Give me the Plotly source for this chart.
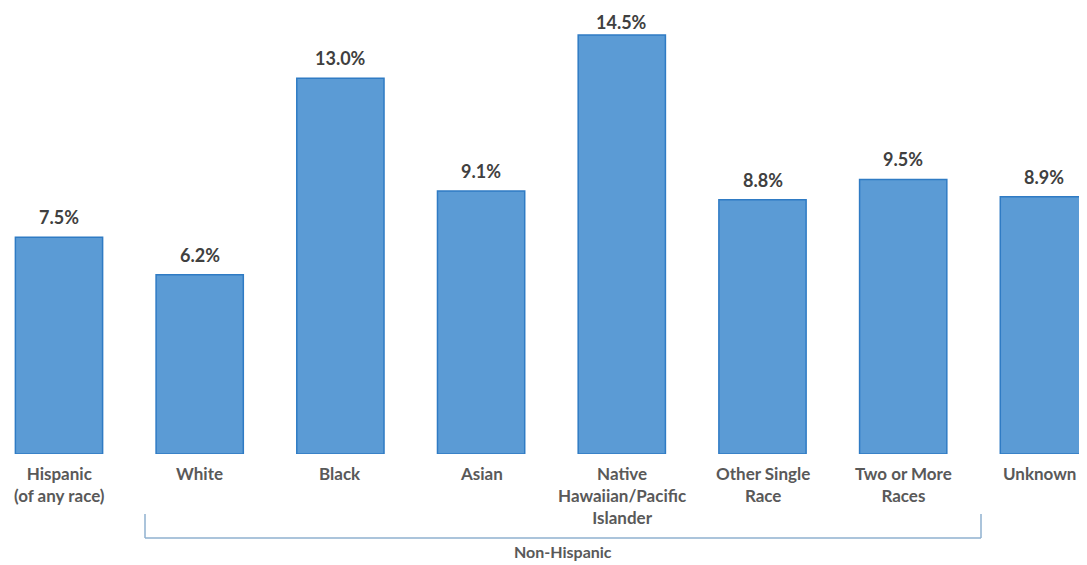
import plotly.graph_objects as go

categories = ["Hispanic<br>(of any race)", "White", "Black", "Asian",
              "Native<br>Hawaiian/Pacific<br>Islander", "Other Single<br>Race",
              "Two or More<br>Races", "Unknown"]
values = [7.5, 6.2, 13.0, 9.1, 14.5, 8.8, 9.5, 8.9]
value_labels = ["7.5%", "6.2%", "13.0%", "9.1%", "14.5%", "8.8%", "9.5%", "8.9%"]
group_label = "Non-Hispanic"

# page body has an 8px margin; compensate
OX, OY = 8, 8
W, H = 1087 - OX, 565 - OY
VIS_RIGHT = 1078            # last visible page pixel column
base_px = 454 - OY          # baseline in figure pixels
px_per_unit = 28.9
step_px = 140.7
x0 = -(59 - OX) / step_px
x1 = x0 + W / step_px
ymax = base_px / px_per_unit

xs = list(range(len(categories)))

fig = go.Figure()
fig.add_trace(go.Bar(
    x=xs, y=values, width=0.62,
    marker=dict(color="#5B9BD5", line=dict(color="#2F7BC4", width=1.5)),
    hoverinfo="skip",
))

LABEL_SIZE = 18
BOX_H = 26
for i, (v, t) in enumerate(zip(values, value_labels)):
    top_fig_px = base_px - v * px_per_unit
    shift = min(7, top_fig_px - BOX_H - 1)
    fig.add_annotation(x=i, y=v, xref="x", yref="y", text="<b>" + t + "</b>",
                       showarrow=False, yanchor="bottom", yshift=shift,
                       font=dict(family="Lato", size=LABEL_SIZE, color="#404040"))

def py(px):
    return (base_px - (px - OY)) / base_px

def px_to_x(px):
    return x0 + (px - OX) / step_px

font_cat = dict(family="Lato", size=17, color="#595959")
for i, c in enumerate(categories):
    kw = dict(x=i, xanchor="center")
    if i == len(categories) - 1:
        kw = dict(x=px_to_x(VIS_RIGHT), xanchor="right")
    fig.add_annotation(xref="x", y=py(461), yref="paper",
                       text="<b>" + c + "</b>", showarrow=False, yanchor="top",
                       font=font_cat, align="center", **kw)

bx0 = px_to_x(145)
bx1 = px_to_x(981)
line_style = dict(color="#8FB0CF", width=1.5)
fig.add_shape(type="line", xref="x", yref="paper", x0=bx0, x1=bx0, y0=py(514), y1=py(538), line=line_style)
fig.add_shape(type="line", xref="x", yref="paper", x0=bx0, x1=bx1, y0=py(538), y1=py(538), line=line_style)
fig.add_shape(type="line", xref="x", yref="paper", x0=bx1, x1=bx1, y0=py(514), y1=py(538), line=line_style)
fig.add_annotation(x=(bx0 + bx1) / 2, xref="x", y=py(551), yref="paper",
                   text="<b>" + group_label + "</b>", showarrow=False, yanchor="middle",
                   font=dict(family="Lato", size=16, color="#595959"))

fig.update_layout(
    width=W, height=H,
    margin=dict(l=0, r=0, t=0, b=H - base_px),
    plot_bgcolor="white", paper_bgcolor="white",
    showlegend=False,
    xaxis=dict(range=[x0, x1], showticklabels=False, showgrid=False, zeroline=False, showline=False, ticks=""),
    yaxis=dict(range=[0, ymax], showticklabels=False, showgrid=False, zeroline=False, showline=False, ticks=""),
)

fig.write_html("out.html")
